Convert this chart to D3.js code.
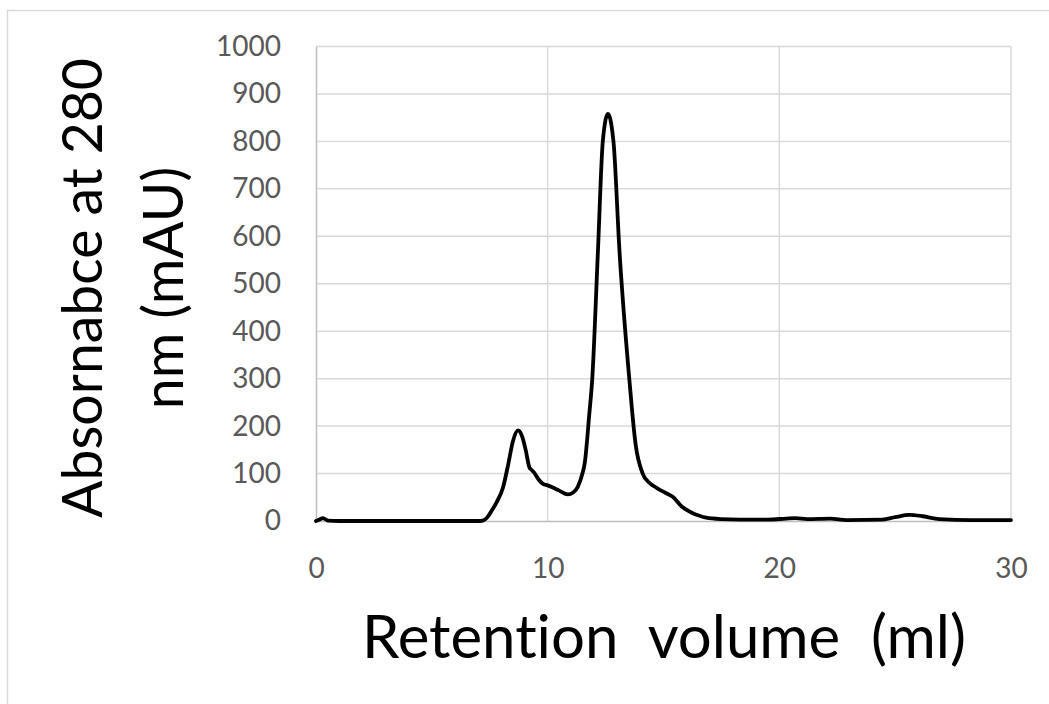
<!DOCTYPE html>
<html>
<head>
<meta charset="utf-8">
<script src="https://cdn.jsdelivr.net/npm/d3@7"></script>
<style>
  html, body { margin: 0; padding: 0; background: #fff; }
  svg { display: block; }
  text { font-family: Lato, "Open Sans", sans-serif; font-variant-ligatures: none; font-feature-settings: "liga" 0; }
</style>
</head>
<body>
<svg id="chart" width="1049" height="704"></svg>
<script>
// ---- data ----
const volume = [0, 0.15, 0.3, 0.5, 1, 3, 5, 7.0, 7.2, 7.4, 7.6, 7.8, 8.07, 8.3, 8.5, 8.72, 8.9, 9.05, 9.22, 9.3, 9.4, 9.6, 9.8, 10.0, 10.2, 10.5, 10.87, 11.1, 11.3, 11.5, 11.6, 11.8, 11.92, 12.17, 12.38, 12.6, 12.84, 13.1, 13.53, 13.8, 14.1, 14.4, 14.7, 15.1, 15.4, 15.8, 16.2, 16.55, 16.84, 17.5, 18.3, 19.5, 20.3, 20.7, 21.2, 22.2, 22.9, 24.45, 25.0, 25.6, 26.2, 26.9, 28.3, 30];
const absorbance = [0, 3, 6, 1, 0, 0, 0, 0, 1, 8, 23, 40, 70, 120, 168, 191, 178, 150, 112, 108, 103, 88, 78, 75, 71, 64, 56, 60, 72, 100, 122, 227, 296, 569, 800, 858, 800, 569, 296, 160, 100, 80, 70, 59, 51, 30, 18, 11, 7, 4, 3, 3, 5, 6, 4, 5, 2, 3, 8, 13, 10, 4, 2, 2];
const xTicks = [0, 10, 20, 30];
const yTicks = [0, 100, 200, 300, 400, 500, 600, 700, 800, 900, 1000];
const xTitle = "Retention\u00a0\u00a0volume\u00a0\u00a0(ml)";
const yTitleLines = ["Absornabce at 280", "nm (mAU)"];

const svg = d3.select("#chart");

// outer frame
svg.append("rect").attr("x", 7.5).attr("y", 10.5).attr("width", 1100).attr("height", 800)
  .attr("fill", "#fff").attr("stroke", "#d9d9d9").attr("stroke-width", 1.5);

const x = d3.scaleLinear().domain([0, 30]).range([316, 1011]);
const y = d3.scaleLinear().domain([0, 1000]).range([521, 46.5]);

// gridlines
const gx = svg.append("g");
gx.selectAll("line.h").data(yTicks.filter(d => d > 0)).join("line")
  .attr("x1", x(0)).attr("x2", x(30)).attr("y1", d => y(d)).attr("y2", d => y(d))
  .attr("stroke", "#d9d9d9").attr("stroke-width", 1.5);
gx.selectAll("line.v").data(xTicks.filter(d => d > 0)).join("line")
  .attr("x1", d => x(d)).attr("x2", d => x(d)).attr("y1", y(0)).attr("y2", y(1000))
  .attr("stroke", "#d9d9d9").attr("stroke-width", 1.5);

// axes
const xAxis = svg.append("g").attr("transform", `translate(0,${y(0)})`)
  .call(d3.axisBottom(x).tickValues(xTicks).tickFormat(d3.format("d")).tickSize(0).tickPadding(37));
const yAxis = svg.append("g").attr("transform", `translate(${x(0)},0)`)
  .call(d3.axisLeft(y).tickValues(yTicks).tickFormat(d3.format("d")).tickSize(0).tickPadding(35));
[xAxis, yAxis].forEach(a => {
  a.select(".domain").attr("stroke", "#bfbfbf").attr("stroke-width", 1.5);
  a.selectAll("text").attr("fill", "#595959").style("font-size", "28px")
    .style("font-family", "Lato, 'Open Sans', sans-serif");
});

// line
const line = d3.line().x((d, i) => x(volume[i])).y(d => y(d)).curve(d3.curveMonotoneX);
svg.append("path").datum(absorbance).attr("d", line)
  .attr("fill", "none").attr("stroke", "#000").attr("stroke-width", 3.8)
  .attr("stroke-linejoin", "round").attr("stroke-linecap", "round");

// helper: fit text to width
function fit(t, width, base) {
  t.style("font-size", base + "px");
  const len = t.node().getComputedTextLength();
  t.style("font-size", (base * width / len) + "px");
}

// x title
const xt = svg.append("text").attr("x", 664).attr("y", 658).attr("text-anchor", "middle")
  .attr("fill", "#000").text(xTitle);
fit(xt, 604, 56);

// y title (two lines, rotated)
const yt1 = svg.append("text").attr("transform", "translate(102,288) rotate(-90)")
  .attr("text-anchor", "middle").attr("fill", "#000").text(yTitleLines[0]);
fit(yt1, 460, 56);
const yt2 = svg.append("text").attr("transform", "translate(183,288) rotate(-90)")
  .attr("text-anchor", "middle").attr("fill", "#000").text(yTitleLines[1]);
yt2.style("font-size", yt1.style("font-size"));
</script>
</body>
</html>
